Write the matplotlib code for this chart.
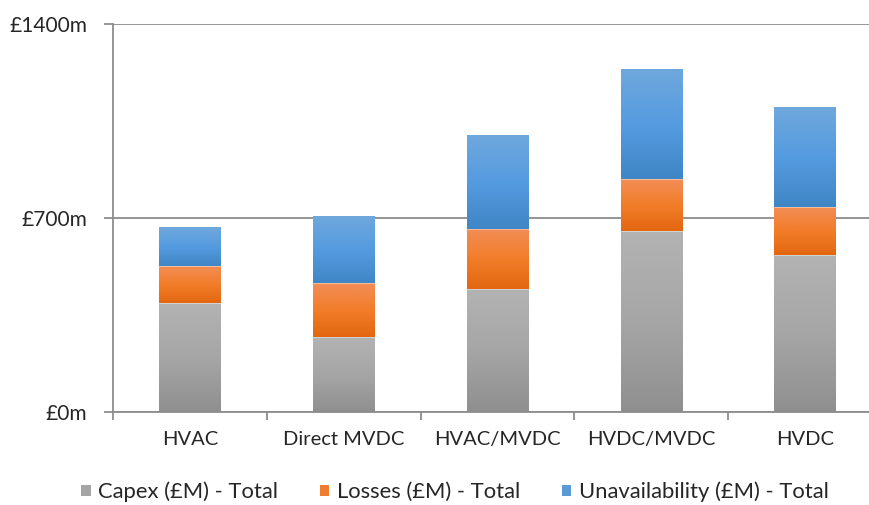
import matplotlib
matplotlib.use("Agg")
import matplotlib.pyplot as plt
import numpy as np
from matplotlib.colors import LinearSegmentedColormap
from matplotlib.patches import Patch

categories = ["HVAC", "Direct MVDC", "HVAC/MVDC", "HVDC/MVDC", "HVDC"]
capex = [392, 270, 443, 653, 566]
losses = [136, 195, 217, 188, 174]
unavail = [138, 239, 339, 396, 360]
series_names = ["Capex (£M) - Total", "Losses (£M) - Total", "Unavailability (£M) - Total"]
y_ticks = [0, 700, 1400]
y_tick_labels = ["£0m", "£700m", "£1400m"]

plt.rcParams['font.family'] = ['Lato', 'DejaVu Sans']
text_color = "#262626"
axis_color = "#8c8c8c"

# gradient stops (top, middle, bottom)
grad = {
    0: ["#b3b3b3", "#a6a6a6", "#8f8f8f"],
    1: ["#f28e58", "#f27d2a", "#e2670f"],
    2: ["#6fa8dc", "#559be0", "#3f86c6"],
}
solid = ["#a5a5a5", "#ed7d31", "#5b9bd5"]

fig = plt.figure(figsize=(8.7, 5.05), dpi=100)
ax = fig.add_axes([113/870, 93.3/505, (882-113)/870, 387.4/505])

x = np.arange(len(categories))
width = 0.40
bottoms = np.zeros(len(categories))
for si, vals in enumerate([capex, losses, unavail]):
    bars = ax.bar(x, vals, width, bottom=bottoms, color=solid[si], zorder=2,
                  edgecolor="none")
    cmap = LinearSegmentedColormap.from_list(f"g{si}", grad[si][::-1])
    g = np.linspace(0, 1, 256).reshape(-1, 1)
    for p in bars:
        x0, y0 = p.get_x(), p.get_y()
        w, h = p.get_width(), p.get_height()
        ax.imshow(g, cmap=cmap, origin="lower", aspect="auto",
                  extent=[x0, x0 + w, y0, y0 + h], zorder=3, interpolation="bilinear")
        ax.plot([x0, x0 + w], [y0, y0], color="white", lw=0.6, alpha=0.5, zorder=4)
    bottoms = bottoms + np.array(vals)

ax.set_xlim(-0.5, len(categories) - 0.5)
ax.set_ylim(0, 1400)
ax.set_yticks(y_ticks)
ax.set_yticklabels(y_tick_labels)
ax.yaxis.grid(True, color=axis_color, lw=1.3, zorder=1)
ax.set_axisbelow(True)

ax.set_xticks(x)
ax.set_xticklabels(categories)
ax.set_xticks(np.arange(-0.5, len(categories) + 0.5, 1), minor=True)
ax.tick_params(axis="x", which="major", length=0, pad=14, labelsize=14.5, labelcolor=text_color)
ax.tick_params(axis="x", which="minor", length=6, width=1.3, color=axis_color)
ax.tick_params(axis="y", length=6.5, width=1.3, color=axis_color, pad=12,
               labelsize=15, labelcolor=text_color)

for s in ["top", "right"]:
    ax.spines[s].set_visible(False)
for s in ["left", "bottom"]:
    ax.spines[s].set_color(axis_color)
    ax.spines[s].set_linewidth(1.3)
    ax.spines[s].set_zorder(5)

handles = [Patch(facecolor=solid[i], edgecolor="none") for i in range(3)]
leg = fig.legend(handles, series_names, loc="center", bbox_to_anchor=(455/870, 13/505),
                 ncol=3, frameon=False, fontsize=15.8, handlelength=0.42, handleheight=0.42,
                 handletextpad=0.35, columnspacing=1.9, labelcolor=text_color)

fig.savefig("out.png", dpi=100)
